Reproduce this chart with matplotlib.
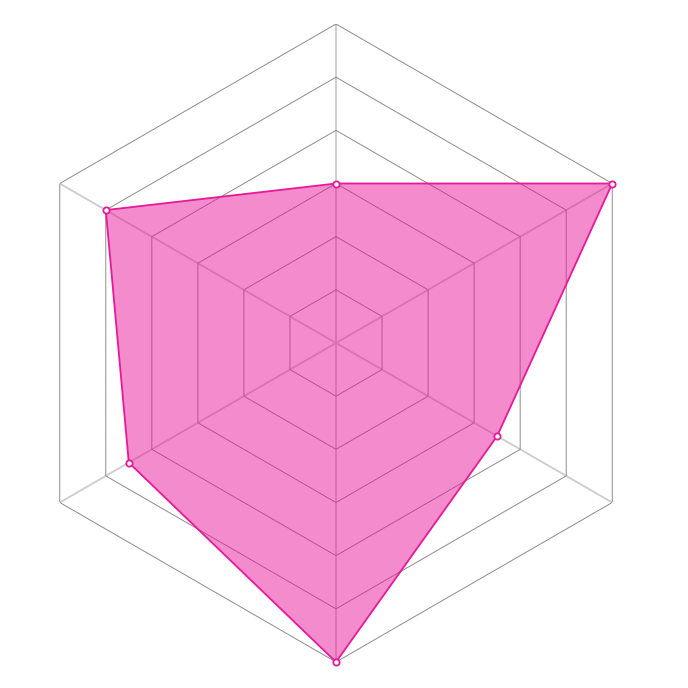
import numpy as np
import matplotlib
matplotlib.use("Agg")
import matplotlib.pyplot as plt

categories = ["A", "B", "C", "D", "E", "F"]
values = [3, 6, 3.5, 6, 4.5, 5]
ring_levels = [1, 2, 3, 4, 5, 6]
max_value = 6

color = "#e8189b"

fig = plt.figure(figsize=(6.88, 6.88), dpi=100)
ax = fig.add_axes([17/688, 26/688, 638/688, 638/688], projection="polar")
ax.set_theta_offset(np.pi / 2)
ax.set_theta_direction(-1)
ax.set_ylim(0, max_value)
ax.grid(False)
ax.spines["polar"].set_visible(False)
ax.set_xticks([])
ax.set_yticks([])

n = len(categories)
angles = np.linspace(0, 2 * np.pi, n, endpoint=False)
closed = np.concatenate([angles, angles[:1]])

# spokes
for a in angles:
    ax.plot([a, a], [0, max_value], color="#cccccc", lw=1.3, zorder=1)

# rings (hexagons)
for lv in ring_levels:
    ax.plot(closed, [lv] * (n + 1), color="#8c8c8c", lw=0.7, zorder=1)

vals = np.array(values + values[:1])
ax.fill(closed, vals, color=color, alpha=0.5, lw=0, zorder=2)
ax.plot(closed, vals, color=color, lw=1.3, zorder=3)
ax.plot(angles, values, "o", ms=4.5, mfc="white", mec=color, mew=1.3, zorder=4, clip_on=False)

fig.savefig("out.png", dpi=100)
